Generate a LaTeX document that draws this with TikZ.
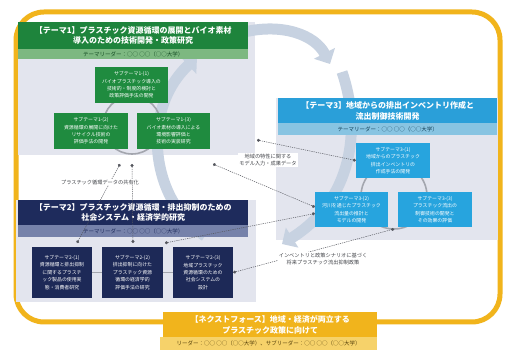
\documentclass[tikz,border=0pt]{standalone}
\usepackage{fontspec}
\setmainfont{Noto Sans CJK JP}
\usetikzlibrary{arrows.meta}
\definecolor{ylw}{HTML}{F1B41C}
\definecolor{ylwl}{HTML}{F6D26A}
\definecolor{grn}{HTML}{1E843C}
\definecolor{grnl}{HTML}{7DB881}
\definecolor{grnb}{HTML}{1F8B3F}
\definecolor{blu}{HTML}{2A9FD9}
\definecolor{blul}{HTML}{88C4E2}
\definecolor{blub}{HTML}{27A4DE}
\definecolor{nav}{HTML}{1E2B5C}
\definecolor{navl}{HTML}{7682AA}
\definecolor{navb}{HTML}{1D2957}
\definecolor{pnl}{HTML}{E3E5EE}
\definecolor{cyc}{HTML}{C7D2E1}
\definecolor{ringc}{HTML}{A3A6AE}
\definecolor{cn}{HTML}{55575E}
\newcommand\ttlfont{\bfseries\fontsize{8}{10.5}\selectfont}
\newcommand\subtfont{\fontsize{5.5}{6.5}\selectfont}
\newcommand\boxtfont{\fontsize{4.9}{7.4}\selectfont}
\newcommand\lbltfont{\fontsize{5.2}{6.6}\selectfont}
\pgfdeclarelayer{bg}
\pgfsetlayers{bg,main}
\tikzset{
  bar/.style={anchor=north west, inner sep=0pt, align=center, text=white, font=\ttlfont},
  subbar/.style={anchor=north west, inner sep=0pt, align=center, font=\subtfont},
  sbox/.style={inner sep=0pt, align=center, text=white, font=\boxtfont},
  cycarrow/.style={draw=cyc, line width=11pt, -{Triangle[length=12pt,width=23pt]}},
  ringline/.style={draw=ringc, line width=1.6pt},
  conn/.style={draw=cn, line width=0.5pt, dash pattern=on 1.2pt off 1pt, {Circle[length=3pt]}-{Circle[length=3pt]}},
  lbl/.style={font=\lbltfont, text=cn!80!black, align=center, inner sep=1pt, fill=white},
}
\begin{document}
\begin{tikzpicture}[x=1pt,y=-1pt]
\useasboundingbox (0,0) rectangle (509,352);
\begin{pgfonlayer}{bg}
\fill[white] (0,0) rectangle (509,352);
\draw[draw=ylw, line width=5pt, rounded corners=28pt] (16,12) rectangle (500,322);
\fill[pnl] (18,22) rectangle (255,155);
\fill[pnl] (276,98) rectangle (498,240);
\fill[pnl] (16,200) rectangle (256,302);
\coordinate (a1s) at (240,33);
\coordinate (a1e) at (330,64);
\coordinate (a2s) at (342,72);
\coordinate (a2e) at (282,244);
\coordinate (a3s) at (205,236);
\coordinate (a3e) at (197,57);
\draw[cycarrow] (a1s) .. controls (282,22) and (315,35) .. (a1e);
\draw[cycarrow] (a2s) .. controls (362,130) and (352,200) .. (a2e);
\draw[cycarrow] (a3s) .. controls (150,200) and (140,110) .. (a3e);
\draw[ringline] (132,125) circle[radius=29];
\draw[ringline] (394,196) circle[radius=33];
\end{pgfonlayer}

% Theme 1
\node[bar, fill=grn, minimum width=230pt, minimum height=27pt] (t1) at (18,22)
  {【テーマ1】プラスチック資源循環の展開とバイオ素材\\導入のための技術開発・政策研究};
\node[subbar, fill=grnl, minimum width=230pt, minimum height=10pt, text=grn!55!black] (s1) at (18,49)
  {テーマリーダー：○○ ○○（○○大学）};
\node[sbox, fill=grnb, minimum width=73pt, minimum height=36pt] (t1a) at (131.5,85)
  {サブテーマ1-(1)\\バイオプラスチック導入の\\技術的・制度的検討と\\政策評価手法の開発};
\node[sbox, fill=grnb, minimum width=74pt, minimum height=36pt] (t1b) at (91,131)
  {サブテーマ1-(2)\\資源循環の展開に向けた\\リサイクル技術の\\評価手法の開発};
\node[sbox, fill=grnb, minimum width=73pt, minimum height=36pt] (t1c) at (173.5,131)
  {サブテーマ1-(3)\\バイオ素材の導入による\\環境影響評価と\\技術の実装研究};

% Theme 3
\node[bar, fill=blu, minimum width=219pt, minimum height=25pt] (t3) at (278,98)
  {【テーマ3】地域からの排出インベントリ作成と\\流出制御技術開発};
\node[subbar, fill=blul, minimum width=219pt, minimum height=12pt, text=blu!40!black] (s3) at (278,123)
  {テーマリーダー：○○ ○○（○○大学）};
\node[sbox, fill=blub, minimum width=74pt, minimum height=35pt] (t3a) at (393,160.5)
  {サブテーマ3-(1)\\地域からのプラスチック\\排出インベントリの\\作成手法の開発};
\node[sbox, fill=blub, minimum width=73pt, minimum height=35pt] (t3b) at (351.5,209.5)
  {サブテーマ3-(2)\\河川を通じたプラスチック\\流出量の推計と\\モデルの開発};
\node[sbox, fill=blub, minimum width=74pt, minimum height=35pt] (t3c) at (435,209.5)
  {サブテーマ3-(3)\\プラスチック流出の\\制御技術の開発と\\その効果の評価};

% Theme 2
\node[bar, fill=nav, minimum width=230pt, minimum height=25pt] (t2) at (18,200)
  {【テーマ2】プラスチック資源循環・排出抑制のための\\社会システム・経済学的研究};
\node[subbar, fill=navl, minimum width=230pt, minimum height=12pt, text=nav] (s2) at (18,225)
  {テーマリーダー：○○ ○○（○○大学）};
\node[sbox, fill=navb, minimum width=60pt, minimum height=51pt] (t2a) at (62,272.5)
  {サブテーマ2-(1)\\資源循環と排出抑制\\に関するプラスチ\\ック製品の使用実\\態・消費者研究};
\node[sbox, fill=navb, minimum width=61pt, minimum height=51pt] (t2b) at (132.5,272.5)
  {サブテーマ2-(2)\\排出抑制に向けた\\プラスチック資源\\循環の経済学的\\評価手法の研究};
\node[sbox, fill=navb, minimum width=60pt, minimum height=51pt] (t2c) at (203,272.5)
  {サブテーマ2-(3)\\地域プラスチック\\資源循環のための\\社会システムの\\設計};
\begin{pgfonlayer}{bg}
\draw[ringline] (t2a) -- (t2c);
\end{pgfonlayer}

% Bottom box
\node[bar, fill=ylw, minimum width=214pt, minimum height=25pt] (t4) at (163,312)
  {【ネクストフォース】地域・経済が両立する\\プラスチック政策に向けて};
\node[subbar, fill=ylwl, minimum width=217pt, minimum height=13pt, text=ylw!35!black] (s4) at (160,337)
  {リーダー：○○ ○○（○○大学）、サブリーダー：○○ ○○（○○大学）};

% connectors
\coordinate (p1r) at (257,140);
\coordinate (p1b1) at (120,164);
\coordinate (p1b2) at (132,164);
\coordinate (p1b3) at (213,164);
\coordinate (p2t1) at (77,243);
\coordinate (p2t2) at (133,243);
\coordinate (p2t3) at (165,243);
\coordinate (r3b) at (394,229);
\draw[conn] (p1r) -- (t3a.west);
\draw[conn] (p1b3) -- ([yshift=2.5pt]t3b.west);
\draw[conn] (p2t3) -- ([yshift=-4pt]t3b.west);
\draw[conn] (t2c.east) -- (r3b);
\draw[conn] (p1b1) -- (p2t1);
\draw[conn] (p1b2) -- (p2t2);

\node[lbl] (l1) at (268,160) {地域の特性に関する\\モデル入力・成果データ};
\node[lbl] (l2) at (100,182) {プラスチック循環データの共有化};
\node[lbl] (l3) at (323,259) {インベントリと政策シナリオに基づく\\将来プラスチック流出抑制政策};
\end{tikzpicture}
\end{document}
